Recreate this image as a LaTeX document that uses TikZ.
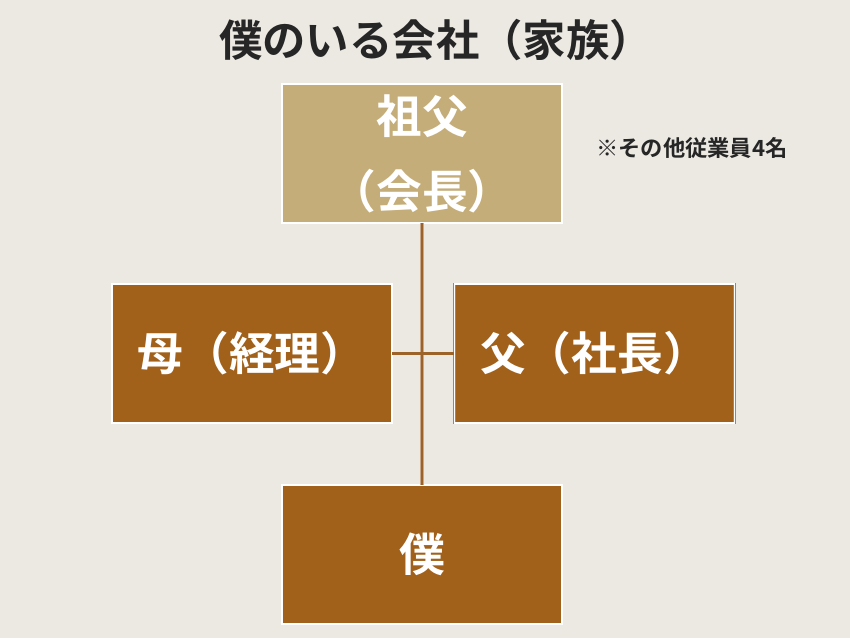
\documentclass[tikz,border=0pt]{standalone}
\usepackage{fontspec}
\newfontfamily\jp{Noto Sans CJK JP}[BoldFont={Noto Sans CJK JP Bold}]
\usepackage{tikz}
\usetikzlibrary{positioning}
\definecolor{nen}{HTML}{ECE9E3}
\definecolor{kincha}{HTML}{C4AD78}
\definecolor{chairo}{HTML}{A1611A}
\definecolor{sen}{HTML}{9C6228}
\tikzset{hako/.style={draw=sen!80,double=white,double distance=1.2pt,line width=.4pt,minimum width=280*.03cm,minimum height=139*.03cm,inner sep=0pt,text=white,font=\jp\bfseries\fontsize{39}{64}\selectfont,align=center},
	eda/.style={draw=sen!55!white,double=sen,double distance=1.8pt,line width=.7pt}}
\begin{document}
\begin{tikzpicture}[x=.03cm,y=-.03cm]
			\fill[nen](0,0)rectangle(850,638);%nen
			\node[font=\jp\bfseries\fontsize{37}{40}\selectfont,text=black!85](title)at(436,40){僕のいる会社（家族）};%tieu de
			\node[hako,fill=kincha](sofu)at(422,153.5){祖父\\（会長）};
			\node[hako,fill=chairo](haha)at(252,353.5){母（経理）};
			\node[hako,fill=chairo](chichi)at(594.5,353.5){父（社長）};
			\node[hako,fill=chairo](boku)at(422,554.5){僕};
			\node[font=\jp\bfseries\fontsize{19}{20}\selectfont,text=black!85](chui)at(692,148){※その他従業員4名};%ghi chu
			\draw[eda](sofu)--(boku) (haha)--(chichi);%duong noi
		\end{tikzpicture}
\end{document}
